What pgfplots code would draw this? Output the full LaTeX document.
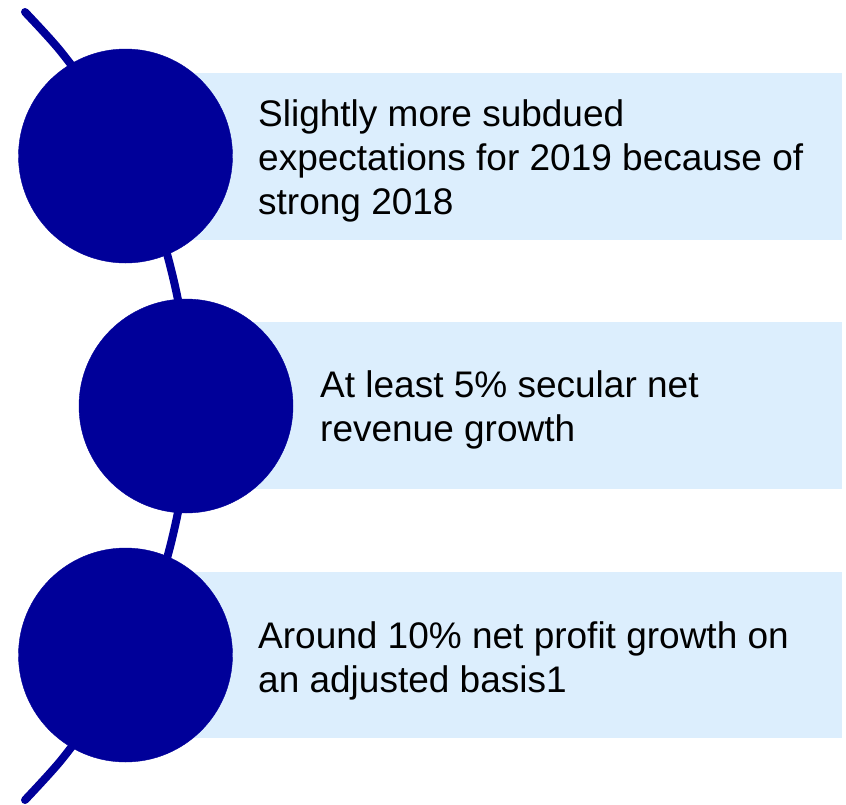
\documentclass[border=0pt]{standalone}
\usepackage{pgfplots}
\pgfplotsset{compat=1.18}
\usepackage{fontspec}
\setmainfont{Liberation Sans}
\definecolor{navy}{RGB}{0,0,153}
\definecolor{lightblue}{RGB}{220,238,253}
\begin{document}
\begin{tikzpicture}
\begin{axis}[
  hide axis, scale only axis,
  width=846pt, height=804pt,
  xmin=0, xmax=846, ymin=0, ymax=804,
  y dir=reverse, clip=false,
]
\draw[draw=none] (axis cs:0,0) rectangle (axis cs:846,804);
% light blue panels
\addplot[fill=lightblue, draw=none] coordinates {(140,73) (842,73) (842,240) (140,240)} -- cycle;
\addplot[fill=lightblue, draw=none] coordinates {(200,322) (842,322) (842,489) (200,489)} -- cycle;
\addplot[fill=lightblue, draw=none] coordinates {(140,572) (842,572) (842,738) (140,738)} -- cycle;
% connecting arc
\addplot[navy, line width=8pt, line cap=round, smooth, mark=none] coordinates {
 (25,12) (59.6,50) (96.7,100) (125.9,150) (148.7,200) (165.9,250) (178.0,300)
 (185.4,350) (188.2,406) (185.6,460) (178.4,510) (166.5,560) (149.5,610)
 (126.9,660) (98.0,710) (61.3,760) (25,800)};
% circles
\addplot[only marks, mark=*, mark size=107pt, navy, mark options={draw=navy, fill=navy}] coordinates {
 (125.5,156) (186,406) (125.5,655)};
% texts
\begin{scope}[every node/.style={anchor=base west, inner sep=0pt, font=\fontsize{37}{44}\selectfont}]
\node at (axis cs:258,126) {Slightly more subdued};
\node at (axis cs:258,170) {expectations for 2019 because of};
\node at (axis cs:258,214) {strong 2018};
\node at (axis cs:320,397) {At least 5\% secular net};
\node at (axis cs:320,441) {revenue growth};
\node at (axis cs:258,648) {Around 10\% net profit growth on};
\node at (axis cs:258,692) {an adjusted basis1};
\end{scope}
\end{axis}
\end{tikzpicture}
\end{document}
